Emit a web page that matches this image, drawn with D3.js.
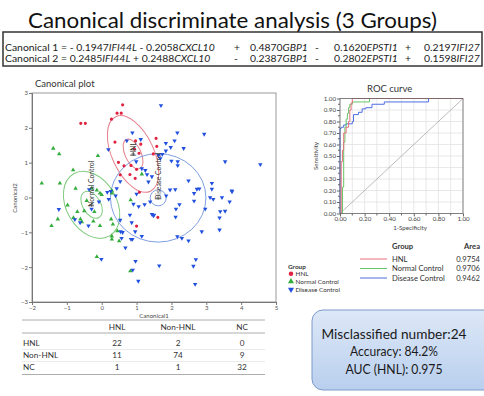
<!DOCTYPE html>
<html>
<head>
<meta charset="utf-8">
<script src="https://cdn.jsdelivr.net/npm/d3@7"></script>
<style>
  html, body { margin: 0; padding: 0; background: #fff; }
  svg { display: block; font-family: Lato, "Open Sans", sans-serif; }
</style>
</head>
<body>
<svg id="chart" width="484" height="396"></svg>
<script>
// ---- data ----
const genes = ['IFI44L', 'CXCL10', 'GBP1', 'EPSTI1', 'IFI27'];
const canonical1 = [-0.1947, -0.2058, 0.4870, -0.1620, 0.2197];
const canonical2 = [0.2485, 0.2488, -0.2387, -0.2802, 0.1598];

const groups = ['HNL', 'Normal Control', 'Disease Control'];

const hnlPoints = [
  [0.60, 2.66], [0.44, 2.42], [0.56, 2.42], [0.28, 2.25], [-0.60, 2.13], [-0.47, 2.13],
  [1.56, 1.70], [1.58, 1.47], [1.48, 1.25], [0.38, 1.59], [0.97, 1.63], [1.12, 1.53],
  [0.94, 1.39], [1.07, 1.27], [0.48, 1.01], [0.64, 0.91], [0.84, 0.92], [1.00, 0.81],
  [0.53, 0.65], [0.81, 0.66], [0.96, 0.55], [1.08, 0.15], [1.00, -0.82], [1.61, -0.57]
];
const normalPoints = [
  [-1.39, 1.41], [-1.22, 1.25], [-0.11, 1.20], [-0.82, 0.79], [-1.72, 0.41], [-1.20, 0.41],
  [-0.75, 0.26], [-0.29, 0.26], [-0.14, 0.21], [-0.05, 0.12], [0.00, 0.08], [0.29, 0.12],
  [0.29, 0.20], [1.15, 0.67], [-0.43, -0.09], [-0.98, -0.22], [-0.70, -0.41], [-0.50, -0.39],
  [-0.21, -0.41], [-0.81, -0.58], [-0.61, -0.62], [-1.26, -0.62], [-1.44, -0.81], [-0.57, -0.70],
  [-0.24, -0.68], [-0.05, -0.81], [0.27, -0.62], [0.32, -0.77], [0.83, -0.07], [0.45, -0.96],
  [0.29, -1.11], [0.29, -1.20], [0.50, -1.25], [-0.14, -1.70], [0.82, -2.11]
];
const diseasePoints = [
  [1.70, 2.64], [2.17, 1.86], [2.94, 1.82], [0.88, 1.86], [1.12, 1.67], [0.72, 1.63],
  [0.19, 1.38], [1.84, 1.56], [2.09, 1.63], [1.98, 1.44], [1.84, 1.34], [2.35, 1.41],
  [1.63, 1.21], [1.68, 1.12], [1.74, 1.24], [2.18, 1.03], [2.00, 1.05], [2.18, 0.92],
  [3.54, 1.03], [4.55, 0.95], [0.99, 1.03], [1.15, 0.83], [1.25, 0.78], [1.34, 0.45],
  [1.44, 0.60], [1.30, 0.66], [2.49, 0.48], [3.16, 0.41], [3.16, 0.24], [3.73, 0.19],
  [1.96, 0.22], [2.11, 0.23], [2.73, 0.24], [2.80, 0.25], [2.65, 0.12], [-0.36, 0.23],
  [0.16, 0.15], [0.43, 0.26], [0.26, 0.18], [0.53, 0.46], [3.11, 0.00], [3.45, 0.00],
  [3.67, -0.12], [3.74, 0.17], [2.23, -0.20], [2.13, -0.33], [2.65, -0.10], [2.97, -0.33],
  [3.54, -0.39], [3.38, -0.58], [2.12, -0.56], [3.38, -0.93], [2.87, -0.98], [2.17, -1.12],
  [2.30, -1.17], [2.49, -1.24], [1.48, -0.52], [1.44, -0.48], [2.70, -1.78], [2.63, -1.97],
  [1.65, -1.96], [2.68, -2.49], [-0.08, -0.12], [-0.29, -0.33], [-1.23, -0.34], [-0.77, -0.63],
  [-0.62, -0.72], [-0.38, -0.81], [0.53, -0.65], [0.81, -0.50], [0.91, -0.19], [1.06, -0.26],
  [1.23, -0.20], [1.39, -0.12], [1.50, -0.50], [0.86, -0.72], [0.96, -0.98], [1.15, -1.11],
  [0.54, -0.98], [0.60, -1.00], [0.57, -1.17], [0.84, -1.20], [0.88, -1.20], [0.68, -1.44],
  [-0.01, -1.77], [0.97, -1.83], [0.89, -2.08], [1.05, -2.40], [0.40, 0.05], [0.20, -0.05],
  [1.00, 0.10], [1.85, 0.05], [3.20, -0.05], [3.40, -0.40]
];

// group means and ellipse half-axes (canonical units), tilt in degrees
const groupCenters = [[0.90, 1.25], [-0.29, -0.21], [1.62, -0.01]];
const outerRadii = [[0.60, 1.18], [0.72, 1.03], [1.37, 1.27]];
const innerRadii = [[0.23, 0.46], [0.26, 0.42], [0.23, 0.23]];
const ellipseTilt = [-25, -30, 0];

const xTicks = [-2, -1, 0, 1, 2, 3, 4, 5];
const yTicks = [-3, -2, -1, 0, 1, 2, 3];

// ROC curves: [1-specificity, sensitivity]
const rocHNL = [[0, 0], [0.01, 0], [0.01, 0.45], [0.02, 0.45], [0.02, 0.55], [0.03, 0.55],
  [0.03, 0.70], [0.05, 0.70], [0.05, 0.75], [0.07, 0.75], [0.07, 0.80], [0.08, 0.80],
  [0.08, 0.90], [0.09, 0.90], [0.09, 0.96], [0.10, 0.96], [0.10, 1], [1, 1]];
const rocNormal = [[0, 0], [0.02, 0], [0.02, 0.23], [0.03, 0.23], [0.03, 0.62], [0.04, 0.62],
  [0.04, 0.75], [0.05, 0.75], [0.05, 0.82], [0.06, 0.82], [0.06, 0.87], [0.07, 0.87],
  [0.07, 0.92], [0.08, 0.92], [0.08, 0.95], [0.10, 0.95], [0.10, 0.97], [0.24, 0.97],
  [0.24, 1], [1, 1]];
const rocDisease = [[0, 0], [0, 0.74], [0.01, 0.74], [0.01, 0.75], [0.03, 0.75], [0.03, 0.77],
  [0.05, 0.77], [0.05, 0.78], [0.10, 0.78], [0.10, 0.80], [0.11, 0.80], [0.11, 0.86],
  [0.15, 0.86], [0.15, 0.88], [0.18, 0.88], [0.18, 0.91], [0.21, 0.91], [0.21, 0.92],
  [0.26, 0.92], [0.26, 0.95], [0.36, 0.95], [0.36, 0.97], [0.72, 0.97], [0.72, 1], [1, 1]];
const rocAreas = [0.9754, 0.9706, 0.9462];

const tableCols = ['HNL', 'Non-HNL', 'NC'];
const tableRows = ['HNL', 'Non-HNL', 'NC'];
const confusion = [[22, 2, 0], [11, 74, 9], [1, 1, 32]];

const summaryLines = ['Misclassified number:24', 'Accuracy: 84.2%', 'AUC (HNL): 0.975'];

// ---- drawing ----
const svg = d3.select('#chart');
const dotColors = ['#e0213f', '#33ad3c', '#2150df'];
const ellipseColors = ['#e5808c', '#7fcb7f', '#7f9fe2'];
const rocColors = ['#e8707c', '#66c466', '#4d6fe0'];

svg.append('rect').attr('width', 484).attr('height', 396).attr('fill', '#fff');

// title
svg.append('text')
  .attr('x', 28).attr('y', 28)
  .attr('font-size', 22).attr('fill', '#111')
  .attr('textLength', 409).attr('lengthAdjust', 'spacingAndGlyphs')
  .text('Canonical discriminate analysis (3 Groups)');

// formula box
svg.append('rect')
  .attr('x', 3).attr('y', 32).attr('width', 479).attr('height', 34)
  .attr('fill', 'none').attr('stroke', '#333').attr('stroke-width', 1.5);

const fmt4 = d3.format('.4f');
function drawFormula(label, coefs, yPos) {
  const g = svg.append('g').attr('font-size', 10.4).attr('fill', '#222');
  // first two terms inline
  const t = g.append('text').attr('x', 5).attr('y', yPos);
  t.append('tspan').text(label + ' = ' + (coefs[0] < 0 ? '- ' : '') + fmt4(Math.abs(coefs[0])));
  t.append('tspan').attr('font-style', 'italic').text(genes[0]);
  t.append('tspan').text((coefs[1] < 0 ? ' - ' : ' + ') + fmt4(Math.abs(coefs[1])));
  t.append('tspan').attr('font-style', 'italic').text(genes[1]);
  const signX = [234, 315, 405];
  const numX = [250, 334, 424];
  for (let i = 2; i < genes.length; i++) {
    g.append('text').attr('x', signX[i - 2]).attr('y', yPos).text(coefs[i] < 0 ? '-' : '+');
    const tt = g.append('text').attr('x', numX[i - 2]).attr('y', yPos);
    tt.append('tspan').text(fmt4(Math.abs(coefs[i])));
    tt.append('tspan').attr('font-style', 'italic').text(genes[i]);
  }
}
drawFormula('Canonical 1', canonical1, 50.5);
drawFormula('Canonical 2', canonical2, 62);

// ---- canonical plot ----
const x = d3.scaleLinear().domain([-2, 5]).range([32, 276]);
const y = d3.scaleLinear().domain([-3, 3]).range([302, 93]);

svg.append('text').attr('x', 35).attr('y', 87)
  .attr('font-size', 9.5).attr('fill', '#333').text('Canonical plot');

const plot = svg.append('g');
plot.append('rect')
  .attr('x', x(-2)).attr('y', y(3))
  .attr('width', x(5) - x(-2)).attr('height', y(-3) - y(3))
  .attr('fill', '#fff').attr('stroke', '#999').attr('stroke-width', 1);

const xAxis = plot.append('g')
  .attr('transform', `translate(0,${y(-3)})`)
  .call(d3.axisBottom(x).tickValues(xTicks).tickSize(3).tickFormat(d3.format('d')));
const yAxis = plot.append('g')
  .attr('transform', `translate(${x(-2)},0)`)
  .call(d3.axisLeft(y).tickValues(yTicks).tickSize(3).tickFormat(d3.format('d')));
[xAxis, yAxis].forEach(a => {
  a.select('.domain').attr('stroke', '#777');
  a.selectAll('.tick line').attr('stroke', '#777');
  a.selectAll('.tick text').attr('font-size', 6).attr('fill', '#555').attr('font-family', 'Lato, sans-serif');
});
xAxis.selectAll('.tick text').attr('y', 4);
yAxis.selectAll('.tick text').attr('x', -4);

plot.append('text').attr('x', 154).attr('y', 318)
  .attr('text-anchor', 'middle').attr('font-size', 6).attr('fill', '#444').text('Canonical1');
plot.append('text')
  .attr('transform', `translate(17,198) rotate(-90)`)
  .attr('text-anchor', 'middle').attr('font-size', 6).attr('fill', '#444').text('Canonical2');

// ellipses
groupCenters.forEach((c, i) => {
  const cx = x(c[0]), cy = y(c[1]);
  [outerRadii[i], innerRadii[i]].forEach(r => {
    plot.append('ellipse')
      .attr('cx', cx).attr('cy', cy)
      .attr('rx', x(r[0]) - x(0)).attr('ry', y(0) - y(r[1]))
      .attr('transform', `rotate(${ellipseTilt[i]},${cx},${cy})`)
      .attr('fill', 'none').attr('stroke', ellipseColors[i]).attr('stroke-width', 1);
  });
});

// points
const symbols = [d3.symbolCircle, d3.symbolTriangle, d3.symbolTriangle];
[hnlPoints, normalPoints, diseasePoints].forEach((pts, i) => {
  plot.append('g').selectAll('path')
    .data(pts)
    .enter().append('path')
    .attr('d', d3.symbol().type(symbols[i]).size(i === 0 ? 8 : 8.5))
    .attr('transform', d => `translate(${x(d[0])},${y(d[1])})` + (i === 2 ? ' rotate(180)' : ''))
    .attr('fill', dotColors[i]);
});

// group labels at the means
groupCenters.forEach((c, i) => {
  const cx = x(c[0]), cy = y(c[1]);
  plot.append('path')
    .attr('d', `M${cx - 2},${cy}H${cx + 2}M${cx},${cy - 2}V${cy + 2}`)
    .attr('stroke', '#555').attr('stroke-width', 0.7);
  plot.append('text')
    .attr('transform', `translate(${cx + 2.5},${cy + 2}) rotate(-90)`)
    .attr('font-size', 6.8).attr('fill', '#333').text(groups[i]);
});

// scatter legend
const leg = svg.append('g').attr('font-size', 6.4).attr('fill', '#333');
leg.append('text').attr('x', 288).attr('y', 269).attr('font-weight', 'bold').text('Group');
groups.forEach((gname, i) => {
  const yy = 276 + i * 7.8;
  leg.append('path')
    .attr('d', d3.symbol().type(symbols[i]).size(16))
    .attr('transform', `translate(291,${yy - 2.2})` + (i === 2 ? ' rotate(180)' : ''))
    .attr('fill', dotColors[i]);
  leg.append('text').attr('x', 295.5).attr('y', yy).text(gname);
});

// ---- ROC curve ----
const rx = d3.scaleLinear().domain([0, 1]).range([340, 463]);
const ry = d3.scaleLinear().domain([0, 1]).range([213.5, 98.5]);
const roc = svg.append('g');

roc.append('text').attr('x', 367).attr('y', 92)
  .attr('font-size', 9.5).attr('fill', '#333').text('ROC curve');

const gridVals = d3.range(0, 1.001, 0.1);
roc.append('g').selectAll('line.gx').data(gridVals).enter().append('line')
  .attr('x1', d => rx(d)).attr('x2', d => rx(d)).attr('y1', ry(0)).attr('y2', ry(1))
  .attr('stroke', '#e2e2e2').attr('stroke-width', 0.8);
roc.append('g').selectAll('line.gy').data(gridVals).enter().append('line')
  .attr('x1', rx(0)).attr('x2', rx(1)).attr('y1', d => ry(d)).attr('y2', d => ry(d))
  .attr('stroke', '#e2e2e2').attr('stroke-width', 0.8);

roc.append('line')
  .attr('x1', rx(0)).attr('y1', ry(0)).attr('x2', rx(1)).attr('y2', ry(1))
  .attr('stroke', '#aaa').attr('stroke-width', 0.8);

const rocLine = d3.line().x(d => rx(d[0])).y(d => ry(d[1]));
[rocDisease, rocNormal, rocHNL].forEach((data, k) => {
  const i = 2 - k;
  roc.append('path').datum(data)
    .attr('d', rocLine)
    .attr('fill', 'none').attr('stroke', rocColors[i]).attr('stroke-width', 1);
});

roc.append('rect')
  .attr('x', rx(0)).attr('y', ry(1))
  .attr('width', rx(1) - rx(0)).attr('height', ry(0) - ry(1))
  .attr('fill', 'none').attr('stroke', '#666').attr('stroke-width', 0.8);

const rxAxis = roc.append('g').attr('transform', `translate(0,${ry(0)})`)
  .call(d3.axisBottom(rx).tickValues(d3.range(0, 1.001, 0.2)).tickSize(3).tickFormat(d3.format('.2f')));
const ryAxis = roc.append('g').attr('transform', `translate(${rx(0)},0)`)
  .call(d3.axisLeft(ry).tickValues(gridVals).tickSize(3).tickFormat(d3.format('.2f')));
[rxAxis, ryAxis].forEach(a => {
  a.select('.domain').remove();
  a.selectAll('.tick line').attr('stroke', '#666');
  a.selectAll('.tick text').attr('font-size', 6.2).attr('fill', '#444').attr('font-family', 'Lato, sans-serif');
});
ryAxis.selectAll('.tick text').attr('x', -4);
rxAxis.selectAll('.tick text').attr('y', 3.5);
// minor ticks
roc.append('g').selectAll('line').data(d3.range(0.05, 1, 0.1)).enter().append('line')
  .attr('x1', rx(0)).attr('x2', rx(0) - 2).attr('y1', d => ry(d)).attr('y2', d => ry(d))
  .attr('stroke', '#666');
roc.append('g').selectAll('line').data(d3.range(0.1, 1, 0.2)).enter().append('line')
  .attr('y1', ry(0)).attr('y2', ry(0) + 2).attr('x1', d => rx(d)).attr('x2', d => rx(d))
  .attr('stroke', '#666');

roc.append('text').attr('x', 410).attr('y', 229.5)
  .attr('text-anchor', 'middle').attr('font-size', 6.2).attr('fill', '#444').text('1-Specificity');
roc.append('text')
  .attr('transform', `translate(318,156) rotate(-90)`)
  .attr('text-anchor', 'middle').attr('font-size', 6.2).attr('fill', '#444').text('Sensitivity');

// ROC legend
const rleg = svg.append('g').attr('font-size', 7.6).attr('fill', '#333');
rleg.append('text').attr('x', 392).attr('y', 249).attr('font-weight', 'bold').text('Group');
rleg.append('text').attr('x', 480).attr('y', 249).attr('text-anchor', 'end').attr('font-weight', 'bold').text('Area');
groups.forEach((gname, i) => {
  const yy = 261.5 + i * 9.5;
  rleg.append('line').attr('x1', 360).attr('x2', 387).attr('y1', yy - 2.5).attr('y2', yy - 2.5)
    .attr('stroke', rocColors[i]).attr('stroke-width', 1);
  rleg.append('text').attr('x', 392).attr('y', yy).text(gname);
  rleg.append('text').attr('x', 480).attr('y', yy).attr('text-anchor', 'end').text(rocAreas[i].toFixed(4));
});

// ---- classification table ----
const tab = svg.append('g').attr('font-size', 8.2).attr('fill', '#333');
const colX = [117, 178, 242];
const rowY = [346, 358, 370];
[320, 333, 374.5].forEach(yy => {
  tab.append('line').attr('x1', 22).attr('x2', 265).attr('y1', yy).attr('y2', yy)
    .attr('stroke', '#999').attr('stroke-width', 0.8);
});
[349.5, 361.5].forEach(yy => {
  tab.append('line').attr('x1', 22).attr('x2', 265).attr('y1', yy).attr('y2', yy)
    .attr('stroke', '#ddd').attr('stroke-width', 0.6);
});
tableCols.forEach((c, j) => {
  tab.append('text').attr('x', colX[j]).attr('y', 329.5).attr('text-anchor', 'middle').text(c);
});
tableRows.forEach((r, i) => {
  tab.append('text').attr('x', 23).attr('y', rowY[i]).text(r);
  confusion[i].forEach((v, j) => {
    tab.append('text').attr('x', colX[j]).attr('y', rowY[i]).attr('text-anchor', 'middle').text(v);
  });
});

// ---- summary box ----
const defs = svg.append('defs');
const grad = defs.append('linearGradient').attr('id', 'boxFill').attr('x1', 0).attr('y1', 0).attr('x2', 0).attr('y2', 1);
grad.append('stop').attr('offset', '0%').attr('stop-color', '#dde8f7');
grad.append('stop').attr('offset', '100%').attr('stop-color', '#b9cfee');
svg.append('rect')
  .attr('x', 312).attr('y', 310).attr('width', 190).attr('height', 80)
  .attr('rx', 11).attr('fill', 'url(#boxFill)').attr('stroke', '#7d9acb').attr('stroke-width', 1);
const box = svg.append('g').attr('font-size', 13.5).attr('fill', '#1a1a1a');
const boxWidths = [145, 88, 97];
const boxBase = [338.5, 356.3, 373.5];
summaryLines.forEach((s, i) => {
  box.append('text').attr('x', 394 - boxWidths[i] / 2).attr('y', boxBase[i])
    .attr('textLength', boxWidths[i]).attr('lengthAdjust', 'spacingAndGlyphs').text(s);
});
</script>
</body>
</html>
